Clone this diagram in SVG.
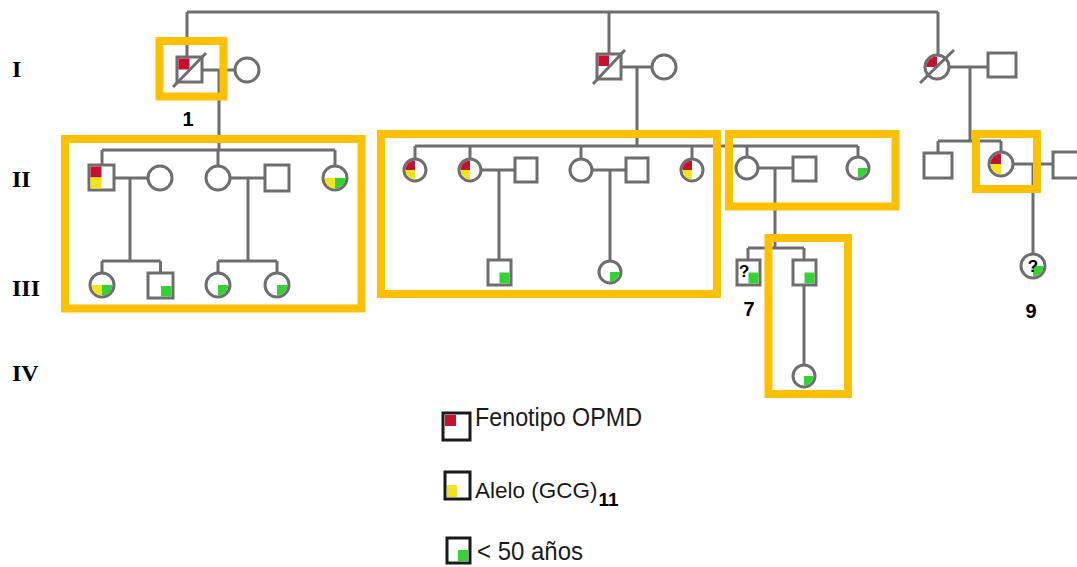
<svg xmlns="http://www.w3.org/2000/svg" width="1077" height="567" viewBox="0 0 1077 567">
<style>
.ln{stroke:#6e6e6e;stroke-width:3;fill:none}
.sym{stroke:#6e6e6e;stroke-width:3;fill:#fff}
.box{stroke:#FFC000;stroke-width:8;fill:none}
.red{fill:#c8102e}.yel{fill:#f2e41a}.grn{fill:#35d135}
.gen{font-family:"Liberation Serif",serif;font-weight:bold;font-size:24px;fill:#000}
.num{font-family:"Liberation Sans",Arial,sans-serif;font-weight:bold;font-size:20px;fill:#000;text-anchor:middle}
.q{font-family:"Liberation Sans",Arial,sans-serif;font-weight:bold;font-size:17px;fill:#000}
.leg{font-family:"Liberation Sans",Arial,sans-serif;font-size:26px;fill:#1a1a1a}
.leg2{font-family:"Liberation Sans",Arial,sans-serif;font-size:22.5px;fill:#1a1a1a}
.sub{font-weight:bold;font-size:19px;fill:#000}
.lsq{stroke:#1a1a1a;stroke-width:3;fill:#fff}
</style>
<rect width="1077" height="567" fill="#fff"/>
<g id="connectors" class="ln">
<path d="M187,12H938M187,12V57M609,12V54M938,12V55"/>
<path d="M202,70H235M219,70V150M621,67H652M637,67V146M949,67H988M970,67V141"/>
<path d="M102,150H335M102,150V165M218,150V166M335,150V166"/>
<path d="M114,178H148M130,178V261M102,261H160.5M102,261V273M160.5,261V273"/>
<path d="M230,178H265M248,178V261M218,261H277M218,261V273M277,261V273"/>
<path d="M415,146H858M415,146V159M470,146V159M581,146V159M692,146V159M747,146V157M858,146V157"/>
<path d="M481,170H515M499,170V260M592,170H626M610,170V261"/>
<path d="M758,168H793M775,168V248M748,248H804M748,248V260M804,248V260M804,285V365"/>
<path d="M938,141H1001M938,141V153M1001,141V152M1013,164H1053M1033,164V254"/>
</g>
<g id="I-1"><rect class="sym" x="177" y="57" width="25" height="25"/><rect class="red" x="178.5" y="58.5" width="11" height="11"/><path class="ln" d="M173,87L206,53"/></g>
<g id="I-1s"><circle class="sym" cx="247" cy="70" r="12"/></g>
<g id="I-2"><rect class="sym" x="597" y="54" width="24" height="25"/><rect class="red" x="598.5" y="55.5" width="10.5" height="10.5"/><path class="ln" d="M593,84L625,50"/></g>
<g id="I-2s"><circle class="sym" cx="664" cy="67" r="12"/></g>
<g id="I-3"><circle class="sym" cx="937" cy="67" r="12"/><path class="red" d="M937,67H926.5A10.5,10.5 0 0 1 937,56.5Z"/><path class="ln" d="M920,83L954,50"/></g>
<g id="I-3s"><rect class="sym" x="988" y="53" width="28" height="24"/></g>

<g id="II-1"><rect class="sym" x="89" y="165" width="25" height="25"/><rect class="red" x="90.5" y="166.5" width="11" height="11"/><rect class="yel" x="90.5" y="177.5" width="11" height="11"/></g>
<g id="II-1s"><circle class="sym" cx="160" cy="178" r="12"/></g>
<g id="II-2"><circle class="sym" cx="218" cy="178" r="12"/></g>
<g id="II-2s"><rect class="sym" x="265" y="165" width="24" height="26"/></g>
<g id="II-3"><circle class="sym" cx="335" cy="178" r="12"/><path class="yel" d="M335,178V188.5A10.5,10.5 0 0 1 324.5,178Z"/><path class="grn" d="M335,178H345.5A10.5,10.5 0 0 1 335,188.5Z"/></g>
<g id="III-1"><circle class="sym" cx="102" cy="285" r="12"/><path class="yel" d="M102,285V295.5A10.5,10.5 0 0 1 91.5,285Z"/><path class="grn" d="M102,285H112.5A10.5,10.5 0 0 1 102,295.5Z"/></g>
<g id="III-2"><rect class="sym" x="148" y="273" width="25" height="25"/><rect class="grn" x="161" y="286" width="10.5" height="10.5"/></g>
<g id="III-3"><circle class="sym" cx="218" cy="285" r="12"/><path class="grn" d="M218,285H228.5A10.5,10.5 0 0 1 218,295.5Z"/></g>
<g id="III-4"><circle class="sym" cx="277" cy="285" r="12"/><path class="grn" d="M277,285H287.5A10.5,10.5 0 0 1 277,295.5Z"/></g>

<g id="II-4"><circle class="sym" cx="415" cy="170" r="11"/><path class="red" d="M415,170H405.5A9.5,9.5 0 0 1 415,160.5Z"/><path class="yel" d="M415,170V179.5A9.5,9.5 0 0 1 405.5,170Z"/></g>
<g id="II-5"><circle class="sym" cx="470" cy="170" r="11"/><path class="red" d="M470,170H460.5A9.5,9.5 0 0 1 470,160.5Z"/><path class="yel" d="M470,170V179.5A9.5,9.5 0 0 1 460.5,170Z"/></g>
<g id="II-5s"><rect class="sym" x="515" y="158" width="22" height="24"/></g>
<g id="II-6"><circle class="sym" cx="581" cy="170" r="11"/></g>
<g id="II-6s"><rect class="sym" x="626" y="158" width="22" height="24"/></g>
<g id="II-7"><circle class="sym" cx="692" cy="170" r="11"/><path class="red" d="M692,170H682.5A9.5,9.5 0 0 1 692,160.5Z"/><path class="yel" d="M692,170V179.5A9.5,9.5 0 0 1 682.5,170Z"/></g>
<g id="III-5"><rect class="sym" x="488" y="260" width="23" height="25"/><rect class="grn" x="499.5" y="272.5" width="10" height="11"/></g>
<g id="III-6"><circle class="sym" cx="610" cy="272" r="11"/><path class="grn" d="M610,272H619.5A9.5,9.5 0 0 1 610,281.5Z"/></g>

<g id="II-8"><circle class="sym" cx="747" cy="168" r="11"/></g>
<g id="II-8s"><rect class="sym" x="793" y="157" width="23" height="24"/></g>
<g id="II-9"><circle class="sym" cx="858" cy="168" r="11"/><path class="grn" d="M858,168H867.5A9.5,9.5 0 0 1 858,177.5Z"/></g>
<g id="III-7"><rect class="sym" x="737" y="260" width="23" height="25"/><rect class="grn" x="748.5" y="272.5" width="10" height="11"/><text class="q" x="739" y="277">?</text></g>
<g id="III-8"><rect class="sym" x="793" y="260" width="23" height="25"/><rect class="grn" x="804.5" y="272.5" width="10" height="11"/></g>
<g id="IV-1"><circle class="sym" cx="804" cy="376" r="11"/><path class="grn" d="M804,376H813.5A9.5,9.5 0 0 1 804,385.5Z"/></g>

<g id="II-10"><rect class="sym" x="924" y="153" width="28" height="25"/></g>
<g id="II-11"><circle class="sym" cx="1001" cy="164" r="12"/><path class="red" d="M1001,164H990.5A10.5,10.5 0 0 1 1001,153.5Z"/><path class="yel" d="M1001,164V174.5A10.5,10.5 0 0 1 990.5,164Z"/></g>
<g id="II-11s"><rect class="sym" x="1053" y="152" width="26" height="26"/></g>
<g id="III-9"><circle class="sym" cx="1033" cy="266" r="12"/><path class="grn" d="M1033,266H1043.5A10.5,10.5 0 0 1 1033,276.5Z"/><text class="q" x="1033" y="272" text-anchor="middle">?</text></g>

<g id="highlights" class="box">
<rect x="159.5" y="41" width="64" height="55.5"/>
<rect x="65" y="139" width="296.5" height="169.5"/>
<rect x="381" y="134" width="336" height="160"/>
<rect x="729" y="134" width="166.5" height="72.5"/>
<rect x="768.5" y="238" width="79.5" height="156"/>
<rect x="976" y="134" width="61" height="55"/>
</g>

<g id="labels">
<text class="gen" x="12" y="77">I</text>
<text class="gen" x="12" y="187">II</text>
<text class="gen" x="12" y="296">III</text>
<text class="gen" x="12" y="381">IV</text>
<text class="num" x="188" y="126">1</text>
<text class="num" x="749" y="316">7</text>
<text class="num" x="1031" y="318">9</text>
</g>

<g id="legend">
<rect class="lsq" x="443" y="413" width="27" height="27"/><rect class="red" x="445" y="415" width="11" height="11"/>
<text class="leg" x="475" y="426" textLength="167" lengthAdjust="spacingAndGlyphs">Fenotipo OPMD</text>
<rect class="lsq" x="445" y="472" width="25" height="27"/><rect class="yel" x="447" y="485" width="10" height="12"/>
<text class="leg2" x="475" y="498">Alelo (GCG)<tspan class="sub" dx="1" dy="8">11</tspan></text>
<rect class="lsq" x="447" y="538" width="23" height="25"/><rect class="grn" x="458" y="550" width="10" height="11"/>
<text class="leg" x="477" y="560" textLength="106" lengthAdjust="spacingAndGlyphs">&lt; 50 años</text>
</g>
</svg>
